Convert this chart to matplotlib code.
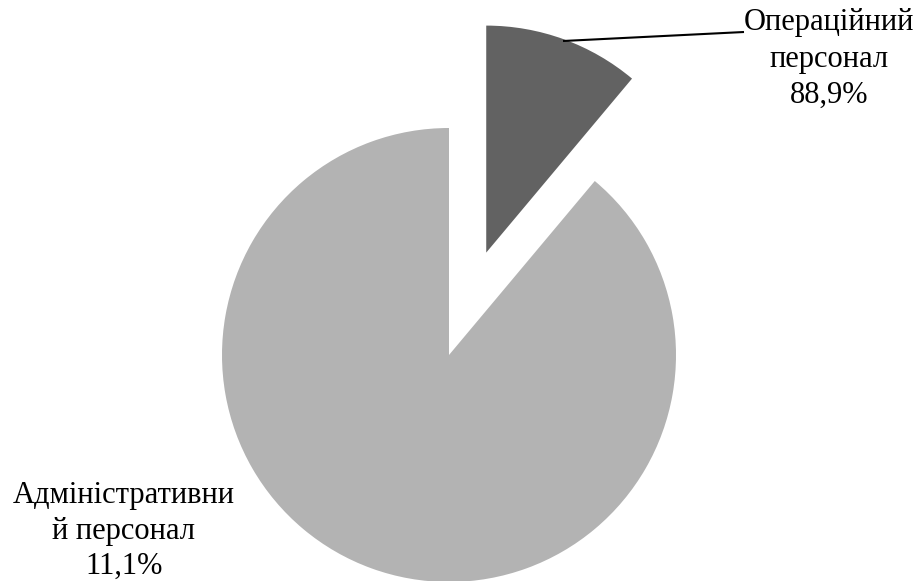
import matplotlib.pyplot as plt

plt.rcParams['font.family'] = ['Liberation Serif', 'DejaVu Serif']

# частки персоналу (розміри секторів) і підписи
slice_sizes = [11.1, 88.9]
slice_labels = ['Операційний\nперсонал\n88,9%', 'Адміністративни\nй персонал\n11,1%']
colors = ['#626262', '#b3b3b3']

fig = plt.figure(figsize=(9.16, 5.81), dpi=100)
ax = fig.add_axes([0, 0, 1, 1])

wedges, _ = ax.pie(slice_sizes, colors=colors, startangle=90, counterclock=False,
                   explode=[0.48, 0], radius=1, wedgeprops=dict(linewidth=0))

# межі осей так, щоб радіус = 227 px, центр у (449, 355)
ax.set_xlim(-449 / 227, (916 - 449) / 227)
ax.set_ylim(-(581 - 355) / 227, 355 / 227)
ax.set_aspect('auto')
ax.axis('off')

def px(x, y):
    return (x - 449) / 227, (355 - y) / 227

ax.text(*px(829, 59), slice_labels[0], ha='center', va='center', fontsize=22, linespacing=1.32)
ax.text(*px(124, 531), slice_labels[1], ha='center', va='center', fontsize=22, linespacing=1.3)

# виноска до темного сектора
x0, y0 = px(563, 41)
x1, y1 = px(744, 32)
ax.plot([x0, x1], [y0, y1], color='black', lw=1.5, solid_capstyle='butt')

fig.savefig('out.png', dpi=100)
